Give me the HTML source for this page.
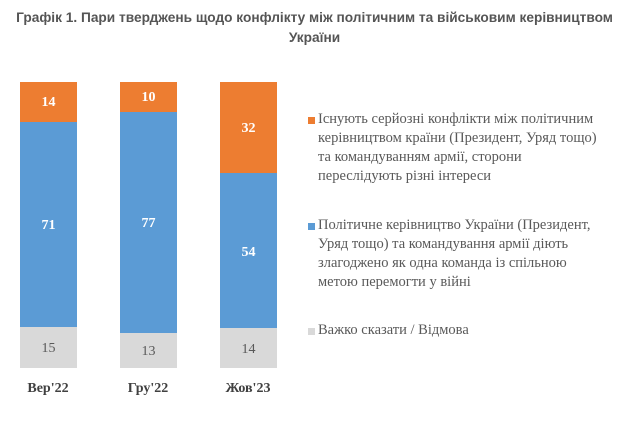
<!DOCTYPE html>
<html><head><meta charset="utf-8"><style>
body{margin:0;width:629px;height:421px;background:#fff;position:relative;overflow:hidden}
.t{position:absolute;left:0;width:629px;text-align:center;font:bold 13.7px "Liberation Sans",sans-serif;color:#555}
.s{position:absolute;width:57px}
.v{position:absolute;width:57px;text-align:center;font:bold 14px "Liberation Serif",serif;color:#fff}
.g{color:#595959;font-weight:normal}
.x{position:absolute;width:80px;text-align:center;font:bold 14px "Liberation Serif",serif;color:#404040}
.l{position:absolute;left:318px;font:14.5px/19px "Liberation Serif",serif;color:#595959;white-space:nowrap}
.m{position:absolute;left:308px;width:7px;height:7px}
</style></head><body>
<div class="t" style="top:10px">Графік 1. Пари тверджень щодо конфлікту між політичним та військовим керівництвом</div>
<div class="t" style="top:30px">України</div>

<div class="s" style="left:20px;top:82px;height:40px;background:#ed7d31"></div>
<div class="s" style="left:20px;top:122px;height:205px;background:#5b9bd5"></div>
<div class="s" style="left:20px;top:327px;height:41px;background:#d9d9d9"></div>
<div class="v" style="left:20px;top:95px">14</div>
<div class="v" style="left:20px;top:218px">71</div>
<div class="v g" style="left:20px;top:341px">15</div>

<div class="s" style="left:120px;top:82px;height:30px;background:#ed7d31"></div>
<div class="s" style="left:120px;top:112px;height:221px;background:#5b9bd5"></div>
<div class="s" style="left:120px;top:333px;height:35px;background:#d9d9d9"></div>
<div class="v" style="left:120px;top:90px">10</div>
<div class="v" style="left:120px;top:216px">77</div>
<div class="v g" style="left:120px;top:344px">13</div>

<div class="s" style="left:220px;top:82px;height:91px;background:#ed7d31"></div>
<div class="s" style="left:220px;top:173px;height:155px;background:#5b9bd5"></div>
<div class="s" style="left:220px;top:328px;height:40px;background:#d9d9d9"></div>
<div class="v" style="left:220px;top:121px">32</div>
<div class="v" style="left:220px;top:245px">54</div>
<div class="v g" style="left:220px;top:342px">14</div>

<div class="x" style="left:8px;top:381px">Вер'22</div>
<div class="x" style="left:108px;top:381px">Гру'22</div>
<div class="x" style="left:208px;top:381px">Жов'23</div>

<div class="m" style="top:117px;background:#ed7d31"></div>
<div class="l" style="top:110px">Існують серйозні конфлікти між політичним<br>керівництвом країни (Президент, Уряд тощо)<br>та командуванням армії, сторони<br>переслідують різні інтереси</div>
<div class="m" style="top:223px;background:#5b9bd5"></div>
<div class="l" style="top:216px">Політичне керівництво України (Президент,<br>Уряд тощо) та командування армії діють<br>злагоджено як одна команда із спільною<br>метою перемогти у війні</div>
<div class="m" style="top:328px;background:#d9d9d9"></div>
<div class="l" style="top:321px">Важко сказати / Відмова</div>
</body></html>
